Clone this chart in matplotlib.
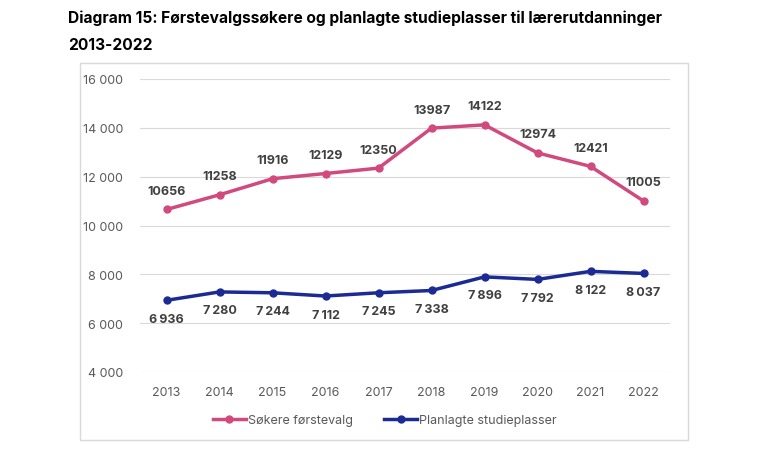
import matplotlib
matplotlib.use("Agg")
import matplotlib.pyplot as plt
from matplotlib.patches import Rectangle

years = ["2013", "2014", "2015", "2016", "2017", "2018", "2019", "2020", "2021", "2022"]
sokere = [10656, 11258, 11916, 12129, 12350, 13987, 14122, 12974, 12421, 11005]
plasser = [6936, 7280, 7244, 7112, 7245, 7338, 7896, 7792, 8122, 8037]
yticks = [4000, 6000, 8000, 10000, 12000, 14000, 16000]
ytick_labels = ["4 000", "6 000", "8 000", "10 000", "12 000", "14 000", "16 000"]
series_names = ["Søkere førstevalg", "Planlagte studieplasser"]
title = "Diagram 15: Førstevalgssøkere og planlagte studieplasser til lærerutdanninger\n2013-2022"

PINK = "#d14a7e"
NAVY = "#1c2a94"
LABEL = "#404040"
TICK = "#595959"

plt.rcParams['font.family'] = ['Inter', 'DejaVu Sans']

fig = plt.figure(figsize=(7.78, 4.6), dpi=100)
fig.patches.append(Rectangle((80/778, 1-441/460), 608/778, 377/460, transform=fig.transFigure,
                             facecolor="white", edgecolor="#d9d9d9", linewidth=1.0, zorder=-5))
fig.text(68/778, 1-11/460, title, ha="left", va="top", fontsize=11.2, fontweight="bold",
         color="black", linespacing=1.95)

ax = fig.add_axes([140/778, 1-373/460, 530/778, 293/460])
ax.set_facecolor("none")
ax.set_zorder(2)
x = list(range(len(years)))
ax.plot(x, sokere, color=PINK, lw=2.5, marker="o", ms=5, label=series_names[0], zorder=3)
ax.plot(x, plasser, color=NAVY, lw=2.5, marker="o", ms=5, label=series_names[1], zorder=3)

for i, v in enumerate(sokere):
    ax.annotate(f"{v}", (i, v), xytext=(0, 9), textcoords="offset points", ha="center", va="bottom",
                fontsize=9, fontweight="bold", color=LABEL)
for i, v in enumerate(plasser):
    s = f"{v:,}".replace(",", "\u2009")
    ax.annotate(s, (i, v), xytext=(0, -9), textcoords="offset points", ha="center", va="top",
                fontsize=9, fontweight="bold", color=LABEL)

ax.set_xlim(-0.5, len(years) - 0.5)
ax.set_ylim(4000, 16000)
ax.set_yticks(yticks)
ax.set_yticklabels(ytick_labels)
ax.set_xticks(x)
ax.set_xticklabels(years)
ax.tick_params(axis="both", length=0, labelsize=9, labelcolor=TICK)
ax.tick_params(axis="y", pad=12)
ax.tick_params(axis="x", pad=10)
ax.grid(axis="y", color="#d9d9d9", lw=0.8)
ax.set_axisbelow(True)
for s in ax.spines.values():
    s.set_visible(False)

leg = fig.legend(loc="center", bbox_to_anchor=(385/778, 1-421/460), ncol=2, frameon=False,
                 fontsize=9, handlelength=2.6, columnspacing=2.5, handletextpad=0.2)
for t in leg.get_texts():
    t.set_color(TICK)

fig.savefig("out.png", dpi=100)
